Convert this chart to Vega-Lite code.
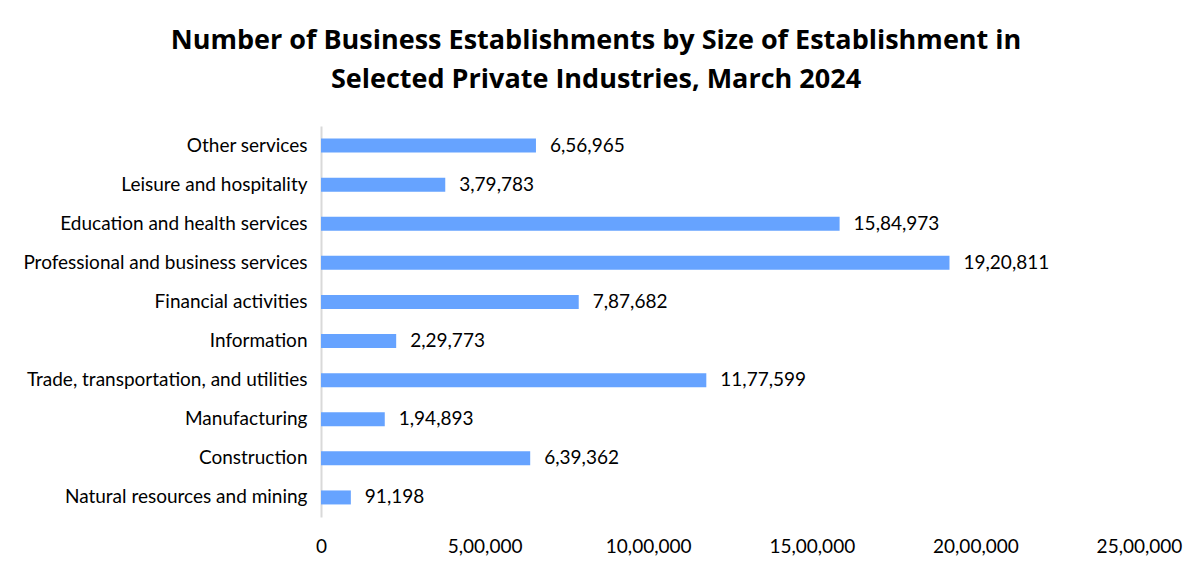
{
  "$schema": "https://vega.github.io/schema/vega-lite/v6.json",
  "width": 818,
  "height": 391,
  "autosize": {"type": "none"},
  "padding": {"left": 321, "top": 126, "right": 52, "bottom": 56},
  "background": "white",
  "title": {
    "text": ["Number of Business Establishments by Size of Establishment in", "Selected Private Industries, March 2024"],
    "font": "Open Sans",
    "fontSize": 27,
    "fontWeight": "bold",
    "color": "#000000",
    "anchor": "middle",
    "dx": -134,
    "offset": 32,
    "lineHeight": 39
  },
  "config": {
    "locale": {"number": {"decimal": ".", "thousands": ",", "grouping": [3, 2, 2, 2], "currency": ["", ""]}},
    "view": {"stroke": null},
    "font": "Lato"
  },
  "data": {
    "values": [
      {"industry": "Other services", "value": 656965},
      {"industry": "Leisure and hospitality", "value": 379783},
      {"industry": "Education and health services", "value": 1584973},
      {"industry": "Professional and business services", "value": 1920811},
      {"industry": "Financial activities", "value": 787682},
      {"industry": "Information", "value": 229773},
      {"industry": "Trade, transportation, and utilities", "value": 1177599},
      {"industry": "Manufacturing", "value": 194893},
      {"industry": "Construction", "value": 639362},
      {"industry": "Natural resources and mining", "value": 91198}
    ]
  },
  "encoding": {
    "y": {
      "field": "industry",
      "type": "nominal",
      "sort": null,
      "title": null,
      "axis": {
        "ticks": false,
        "domainColor": "#d9d9d9",
        "domainWidth": 2,
        "labelFontSize": 19,
        "labelColor": "#000000",
        "labelPadding": 14,
        "labelLimit": 0,
        "labelFont": "Lato"
      }
    },
    "x": {
      "field": "value",
      "type": "quantitative",
      "title": null,
      "scale": {"domain": [0, 2500000], "nice": false},
      "axis": {
        "values": [0, 500000, 1000000, 1500000, 2000000, 2500000],
        "format": ",d",
        "grid": false,
        "domain": false,
        "ticks": false,
        "labelFlush": false,
        "labelOverlap": false,
        "labelFontSize": 19,
        "labelColor": "#000000",
        "labelPadding": 20,
        "labelFont": "Lato"
      }
    }
  },
  "layer": [
    {"mark": {"type": "bar", "color": "#66a3ff", "size": 14}},
    {
      "mark": {"type": "text", "align": "left", "dx": 14, "fontSize": 19, "color": "#000000", "font": "Lato"},
      "encoding": {"text": {"field": "value", "type": "quantitative", "format": ",d"}}
    }
  ]
}
